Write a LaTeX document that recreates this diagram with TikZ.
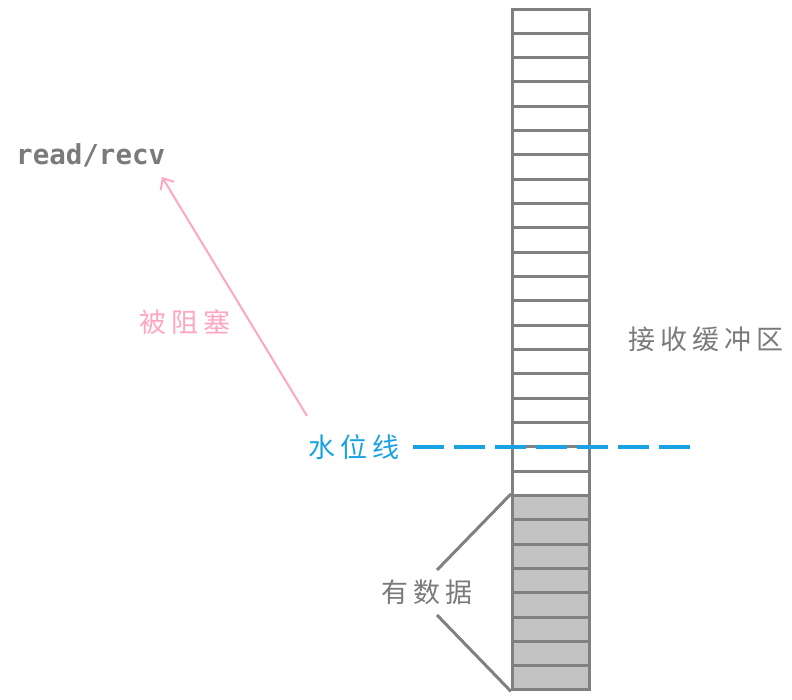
\documentclass[tikz,border=0pt]{standalone}
\usepackage{fontspec}
\newfontfamily\cjk[LetterSpace=18]{Noto Sans CJK SC}
\newfontfamily\codefont{DejaVu Sans Mono}
\usetikzlibrary{arrows.meta}
\definecolor{linegray}{HTML}{808080}
\definecolor{cellfill}{HTML}{C3C3C3}
\definecolor{textgray}{HTML}{7A7A7A}
\definecolor{waterblue}{HTML}{18A2E4}
\definecolor{blockpink}{HTML}{FFA6C1}
\begin{document}
\begin{tikzpicture}[x=1pt, y=-1pt, >={Straight Barb[length=9pt,width=16pt]},
  cell/.style={draw=linegray, line width=3pt, minimum width=77pt, minimum height=24.32pt, inner sep=0pt},
  cntext/.style={inner sep=0pt, font=\cjk\fontsize{27}{27}\selectfont}]
\useasboundingbox (0,0) rectangle (792,699);

% buffer cells, the last 8 hold data
\foreach \i in {1,...,28} {
  \ifnum\i>20 \def\cellcol{cellfill}\else\def\cellcol{white}\fi
  \node[cell, fill=\cellcol] (c\i) at (551, {9+24.32*(\i-0.5)}) {};
}

\node[inner sep=0pt, anchor=base west, text=textgray, font=\codefont\bfseries\fontsize{27.5}{27.5}\selectfont] (rr) at (16,164) {read/recv};
\node[cntext, text=blockpink] (block) at (185,322) {被阻塞};
\node[cntext, text=waterblue] (water) at (354,447) {水位线};
\node[cntext, text=textgray] (buffer) at (706,339) {接收缓冲区};
\node[cntext, text=textgray] (data) at (427,592) {有数据};

\coordinate (wstart) at (413,447);
\coordinate (wend) at (690,447);
\coordinate (btail) at (307,416);
\coordinate (btip) at (162,177);
\coordinate (dtop) at (437,570);
\coordinate (dbot) at (437,615);

\draw[waterblue, line width=3.5pt, dash pattern=on 31pt off 10pt] (wstart) -- (wend);
\draw[->, blockpink, line width=2pt] (btail) -- (btip);
\draw[linegray, line width=3pt] (dtop) -- (c21.north west);
\draw[linegray, line width=3pt] (dbot) -- (c28.south west);
\end{tikzpicture}
\end{document}
